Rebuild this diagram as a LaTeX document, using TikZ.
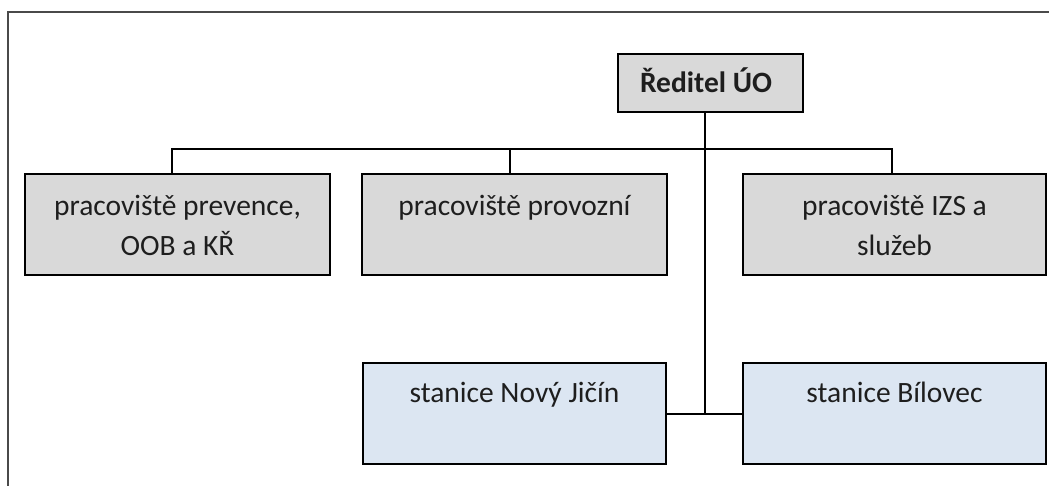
\documentclass[tikz,border=0pt]{standalone}
\usepackage{fontspec}
\setmainfont{Carlito}
\usetikzlibrary{calc}
\definecolor{boxgray}{HTML}{D9D9D9}
\definecolor{boxblue}{HTML}{DCE6F2}
\definecolor{framegray}{HTML}{4A4A4A}
\definecolor{txtcol}{HTML}{1E1E1E}
\tikzset{
  orgbox/.style={draw=black, line width=2pt, inner sep=0pt, anchor=north west},
  graybox/.style={orgbox, fill=boxgray},
  bluebox/.style={orgbox, fill=boxblue},
  boxtext/.style={inner sep=0pt, anchor=north, align=center, text=txtcol,
    font=\fontsize{29.5}{40}\selectfont},
  conn/.style={draw=black, line width=2pt},
}
\begin{document}
\begin{tikzpicture}[x=1pt,y=-1pt]
\useasboundingbox (0,0) rectangle (1049,485);
% frame
\draw[framegray, line width=2pt] (8,486) -- (8,12) -- (1050,12);
% boxes
\node[graybox, minimum width=185pt, minimum height=58pt] (boss) at (617,53) {};
\node[graybox, minimum width=305pt, minimum height=101pt] (b1) at (24,173) {};
\node[graybox, minimum width=305pt, minimum height=101pt] (b2) at (361,173) {};
\node[graybox, minimum width=303pt, minimum height=101pt] (b3) at (742,173) {};
\node[bluebox, minimum width=303pt, minimum height=101pt] (s1) at (362,362) {};
\node[bluebox, minimum width=303pt, minimum height=101pt] (s2) at (742,362) {};
% texts
\node[inner sep=0pt, text=txtcol, font=\fontsize{29.5}{36}\selectfont\bfseries, anchor=base] (bosst) at (706,92) {Ředitel ÚO};
\node[boxtext] (t1) at ([yshift=-14pt]b1.north) {\strut pracoviště prevence,\\\strut OOB a KŘ};
\node[boxtext] (t2) at ([yshift=-14pt]b2.north) {\strut pracoviště provozní};
\node[boxtext] (t3) at ([yshift=-14pt]b3.north) {\strut pracoviště IZS a\\\strut služeb};
\node[boxtext] (t4) at ([yshift=-12pt]s1.north) {\strut stanice Nový Jičín};
\node[boxtext] (t5) at ([yshift=-12pt]s2.north) {\strut stanice Bílovec};
% connectors
\coordinate (j) at ($(s1.east)!0.5!(s2.west)$);
\coordinate (busj) at (j |- 0,149);
\draw[conn] (s1.east) -- (s2.west);
\draw[conn] (j |- boss.south) -- (j);
\draw[conn] ([xshift=-6pt]b1.north) |- (busj) -| ([xshift=-3pt]b3.north);
\draw[conn] ([xshift=-5pt]b2.north) -- ([xshift=-5pt]b2.north |- busj);
\end{tikzpicture}
\end{document}
